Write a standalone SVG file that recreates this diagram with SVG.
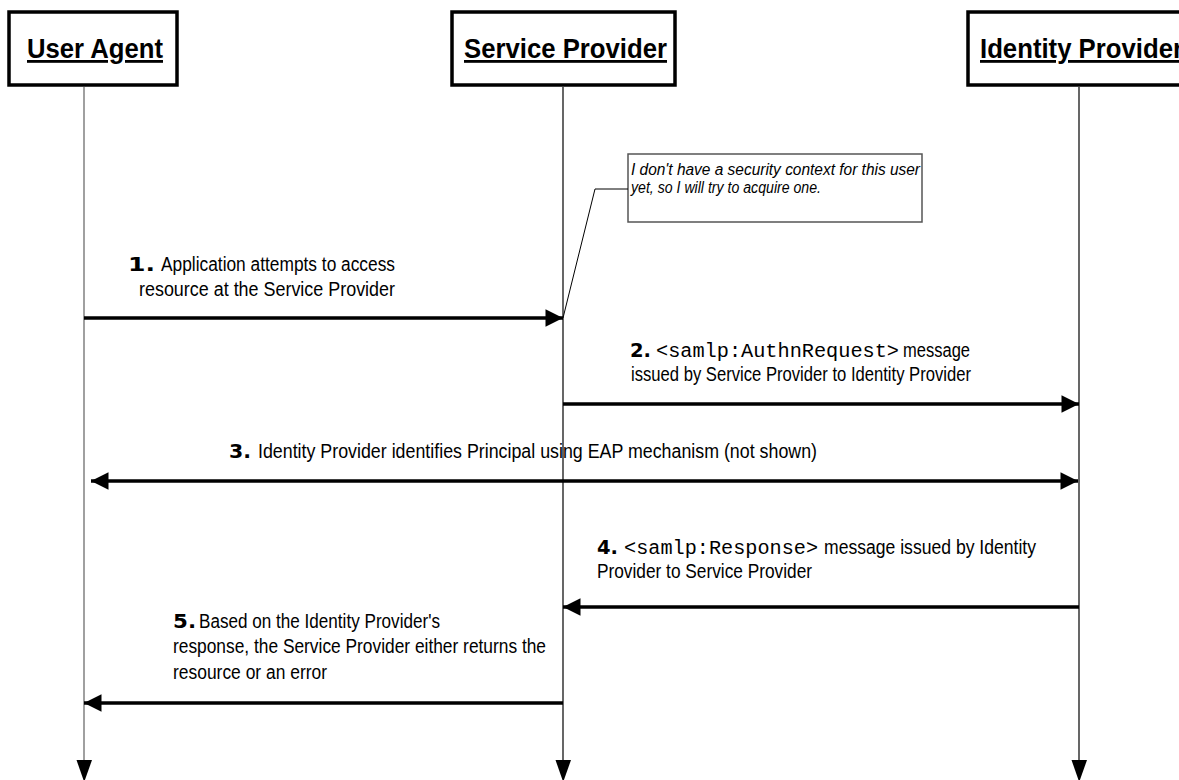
<svg xmlns="http://www.w3.org/2000/svg" width="1179" height="780" viewBox="0 0 1179 780">
<defs>
<style>
.box{fill:#fff;stroke:#000;stroke-width:3.5}
.title{font-family:"Liberation Sans",Arial,sans-serif;font-weight:bold;font-size:28px;text-decoration:underline;fill:#000}
.life{stroke:#000;stroke-width:1.2;fill:none}
.msg{stroke:#000;stroke-width:3.5;fill:none}
.lbl{font-family:"Liberation Sans",Arial,sans-serif;font-size:19.5px;fill:#000}
.num{font-family:"DejaVu Sans","Liberation Sans",sans-serif;font-weight:bold;font-size:20px;fill:#000}
.mono{font-family:"Liberation Mono","Courier New",monospace;font-size:20px;fill:#000}
.note{fill:#fff;stroke:#555;stroke-width:1.5}
.notetxt{font-family:"Liberation Sans",Arial,sans-serif;font-style:italic;font-size:16px;fill:#000}
</style>
<marker id="ah" viewBox="0 0 10 10" refX="10" refY="5" markerWidth="7.2" markerHeight="5" markerUnits="strokeWidth" orient="auto-start-reverse">
<path d="M0,0 L10,5 L0,10 z" fill="#000"/>
</marker>
</defs>
<rect width="1179" height="780" fill="#fff"/>

<g id="user-agent">
<rect class="box" x="9" y="12" width="168" height="73"/>
<text class="title" x="27" y="58" textLength="136" lengthAdjust="spacingAndGlyphs">User Agent</text>
<line x1="84" y1="87" x2="84" y2="762" stroke="#808080" stroke-width="1.5"/>
<polygon points="76.5,760 92,760 84.2,782" fill="#000"/>
</g>

<g id="service-provider">
<rect class="box" x="452" y="12" width="223" height="73"/>
<text class="title" x="464" y="58" textLength="203" lengthAdjust="spacingAndGlyphs">Service Provider</text>
<line class="life" x1="563" y1="87" x2="563" y2="762"/>
<polygon points="555.5,760 571,760 563.2,782" fill="#000"/>
</g>

<g id="identity-provider">
<rect class="box" x="968" y="12" width="240" height="73"/>
<text class="title" x="980" y="58" textLength="203" lengthAdjust="spacingAndGlyphs">Identity Provider</text>
<line class="life" x1="1079" y1="87" x2="1079" y2="762"/>
<polygon points="1071.5,760 1087,760 1079.2,782" fill="#000"/>
</g>

<g id="note">
<rect class="note" x="628" y="154" width="294" height="68"/>
<text class="notetxt" x="631" y="175" textLength="289" lengthAdjust="spacingAndGlyphs">I don't have a security context for this user</text>
<text class="notetxt" x="631" y="193" textLength="190" lengthAdjust="spacingAndGlyphs">yet, so I will try to acquire one.</text>
</g>

<g id="connectors">
<polyline points="628,189 595,189 563,318" fill="none" stroke="#000" stroke-width="1"/>
<line class="msg" x1="84" y1="318" x2="563" y2="318" marker-end="url(#ah)"/>
<line class="msg" x1="563" y1="404" x2="1079" y2="404" marker-end="url(#ah)"/>
<line class="msg" x1="91" y1="481" x2="1078" y2="481" marker-start="url(#ah)" marker-end="url(#ah)"/>
<line class="msg" x1="1079" y1="607" x2="563" y2="607" marker-end="url(#ah)"/>
<line class="msg" x1="563" y1="703" x2="84" y2="703" marker-end="url(#ah)"/>
</g>

<g id="label-1">
<text class="num" x="128" y="271" textLength="27" lengthAdjust="spacingAndGlyphs">1.</text>
<text class="lbl" x="161" y="271" textLength="234" lengthAdjust="spacingAndGlyphs">Application attempts to access</text>
<text class="lbl" x="139" y="296" textLength="256" lengthAdjust="spacingAndGlyphs">resource at the Service Provider</text>
</g>

<g id="label-2">
<text class="num" x="630" y="357" textLength="21" lengthAdjust="spacingAndGlyphs">2.</text>
<text class="mono" x="656" y="357" textLength="243" lengthAdjust="spacingAndGlyphs">&lt;samlp:AuthnRequest&gt;</text>
<text class="lbl" x="903" y="357" textLength="67" lengthAdjust="spacingAndGlyphs">message</text>
<text class="lbl" x="631" y="381" textLength="340" lengthAdjust="spacingAndGlyphs">issued by Service Provider to Identity Provider</text>
</g>

<g id="label-3">
<text class="num" x="229" y="458" textLength="22" lengthAdjust="spacingAndGlyphs">3.</text>
<text class="lbl" x="258" y="458" textLength="559" lengthAdjust="spacingAndGlyphs">Identity Provider identifies Principal using EAP mechanism (not shown)</text>
</g>

<g id="label-4">
<text class="num" x="597" y="554" textLength="21" lengthAdjust="spacingAndGlyphs">4.</text>
<text class="mono" x="624" y="554" textLength="194" lengthAdjust="spacingAndGlyphs">&lt;samlp:Response&gt;</text>
<text class="lbl" x="824" y="554" textLength="212" lengthAdjust="spacingAndGlyphs">message issued by Identity</text>
<text class="lbl" x="597" y="578" textLength="215" lengthAdjust="spacingAndGlyphs">Provider to Service Provider</text>
</g>

<g id="label-5">
<text class="num" x="173" y="628" textLength="23" lengthAdjust="spacingAndGlyphs">5.</text>
<text class="lbl" x="199" y="628" textLength="241" lengthAdjust="spacingAndGlyphs">Based on the Identity Provider's</text>
<text class="lbl" x="173" y="653" textLength="373" lengthAdjust="spacingAndGlyphs">response, the Service Provider either returns the</text>
<text class="lbl" x="173" y="679" textLength="154" lengthAdjust="spacingAndGlyphs">resource or an error</text>
</g>
</svg>
